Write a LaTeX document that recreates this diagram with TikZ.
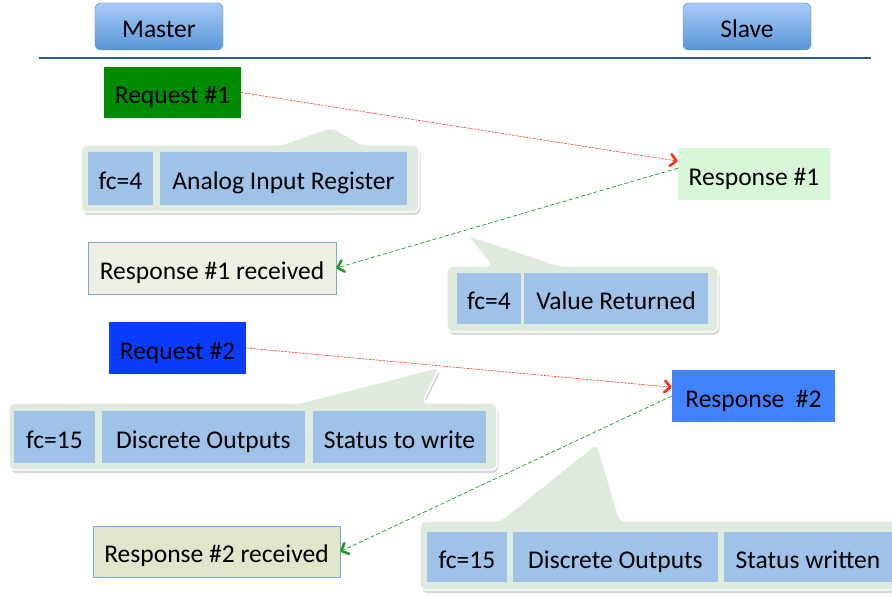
\documentclass[tikz,border=0pt]{standalone}
\usepackage{fontspec}
\setmainfont{Carlito}
\usepackage{xcolor}
\usepackage{tikz}
\usetikzlibrary{arrows}
\usetikzlibrary{arrows.meta}
\definecolor{roletop}{HTML}{A8CBF8}
\definecolor{rolebot}{HTML}{5A95D7}
\definecolor{rolebd}{HTML}{5C8FCF}
\definecolor{dividercol}{HTML}{2D5B8C}
\definecolor{reqone}{HTML}{008C00}
\definecolor{reqtwo}{HTML}{0A3CFF}
\definecolor{respone}{HTML}{D6F8D6}
\definecolor{resptwo}{HTML}{4182FF}
\definecolor{recvone}{HTML}{EEF0E4}
\definecolor{recvtwo}{HTML}{DFE6CC}
\definecolor{recvbd}{HTML}{7BA7D8}
\definecolor{calloutcol}{HTML}{E0EBE0}
\definecolor{cellcol}{HTML}{9FC2E9}
\definecolor{reqline}{HTML}{FF3010}
\definecolor{respline}{HTML}{1E9A1E}

\begin{document}
\begin{tikzpicture}[x=0.03cm,y=-0.03cm,
  every node/.style={font=\fontsize{21.8}{26}\selectfont,inner sep=0pt,text height=19pt,text depth=0pt},
  rolebox/.style={rounded corners=5pt,draw=rolebd,top color=roletop,bottom color=rolebot,minimum width=3.84cm,minimum height=1.41cm},
  msgbox/.style={minimum height=1.56cm},
  cell/.style={fill=cellcol},
  callout/.style={fill=calloutcol,draw=white,line width=1.2pt,rounded corners=5pt},
  calloutshadow/.style={fill=black!15,rounded corners=5pt},
  tipbarb/.style={-{Straight Barb[length=5pt,width=10pt,line width=2.2pt,round]}},
  sendline/.style={reqline,line width=0.5pt,dash pattern=on 2pt off 1pt,tipbarb},
  backline/.style={respline,line width=0.6pt,dash pattern=on 3.5pt off 2pt,tipbarb}]
\clip (0,0) rectangle (892,598);
% roles
\node[rolebox] (master) at (159,26.5) {Master};
\node[rolebox] (slave) at (747,26.5) {Slave};
\draw[dividercol,line width=2.5pt] (39,58) -- (871,58);
% callouts
\foreach \xa/\ya/\xb/\yb/\bl/\ax/\ay/\br in {81/145/419/212/280/332/127/362, 447/266/718/332/492/467/235/560, 9/403/497/470/300/440/367/422, 420/521/905/590/500/597/443/620}
{
  \path[calloutshadow,shift={(1.5,3)}] (\xa,\yb) -- (\xa,\ya) -- (\bl,\ya) -- (\ax,\ay) -- (\br,\ya) -- (\xb,\ya) -- (\xb,\yb) -- cycle;
  \path[callout] (\xa,\yb) -- (\xa,\ya) -- (\bl,\ya) -- (\ax,\ay) -- (\br,\ya) -- (\xb,\ya) -- (\xb,\yb) -- cycle;
}
% cells of the callouts
\node[cell,minimum width=1.95cm,minimum height=1.59cm] (fcone) at (120.5,178.5) {fc=4};
\node[cell,minimum width=7.41cm,minimum height=1.59cm] (regone) at (283.5,178.5) {Analog Input Register};
\node[cell,minimum width=1.92cm,minimum height=1.53cm] (fctwo) at (489,298.5) {fc=4};
\node[cell,minimum width=5.52cm,minimum height=1.53cm] (valtwo) at (616,298.5) {Value Returned};
\node[cell,minimum width=2.43cm,minimum height=1.56cm] (fcthree) at (54.5,437) {fc=15};
\node[cell,minimum width=6.09cm,minimum height=1.56cm] (outthree) at (203.5,437) {Discrete Outputs};
\node[cell,minimum width=5.19cm,minimum height=1.56cm] (statthree) at (399.5,437) {Status to write};
\node[cell,minimum width=2.4cm,minimum height=1.5cm] (fcfour) at (467,557) {fc=15};
\node[cell,minimum width=6.15cm,minimum height=1.5cm] (outfour) at (615.5,557) {Discrete Outputs};
\node[cell,minimum width=5.04cm,minimum height=1.5cm] (statfour) at (808,557) {Status written};
% messages
\node[msgbox,fill=reqone,minimum width=4.11cm,minimum height=1.53cm] (req1) at (172.5,92.5) {Request \#1};
\node[msgbox,fill=respone,minimum width=4.56cm] (resp1) at (754,174) {Response \#1};
\node[msgbox,fill=recvone,draw=recvbd,minimum width=7.44cm] (recv1) at (212,268) {Response \#1 received};
\node[msgbox,fill=reqtwo,minimum width=4.11cm] (req2) at (177.5,348) {Request \#2};
\node[msgbox,fill=resptwo,minimum width=4.89cm] (resp2) at (753.5,396) {Response~~\#2};
\node[msgbox,fill=recvtwo,draw=recvbd,minimum width=7.41cm,minimum height=1.53cm] (recv2) at (216.5,551.5) {Response \#2 received};
% arrows
\draw[sendline] (req1.east) -- ([yshift=11pt]resp1.west);
\draw[backline] ([yshift=5pt]resp1.west) -- (recv1.east);
\draw[sendline] (req2.east) -- ([yshift=7.5pt]resp2.west);
\draw[backline] (resp2.west) -- (recv2.east);
\end{tikzpicture}
\end{document}
